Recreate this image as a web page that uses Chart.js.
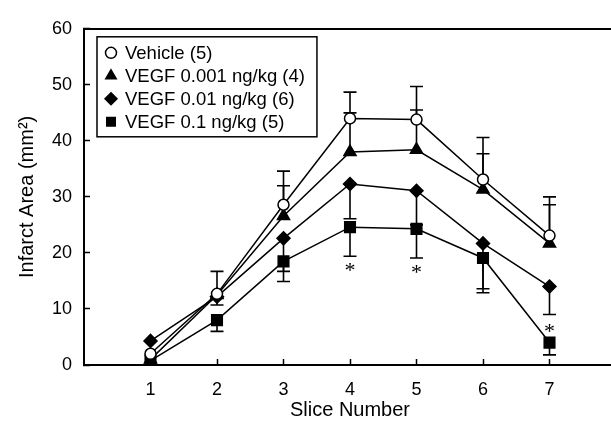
<!DOCTYPE html>
<html>
<head>
<meta charset="utf-8">
<script src="https://cdn.jsdelivr.net/npm/chart.js@4.4.0/dist/chart.umd.min.js"></script>
<style>
  html, body { margin: 0; padding: 0; overflow: hidden; background: #fff; }
  #wrap { width: 625px; height: 427px; }
</style>
</head>
<body>
<div id="wrap"><canvas id="infarctChart"></canvas></div>
<script>
const slices = [1, 2, 3, 4, 5, 6, 7];
const yTicks = [0, 10, 20, 30, 40, 50, 60];
const seriesNames = ['Vehicle (5)', 'VEGF 0.001 ng/kg (4)', 'VEGF 0.01 ng/kg (6)', 'VEGF 0.1 ng/kg (5)'];

const vehicle  = [2.0, 12.7, 28.6, 44.0, 43.8, 33.1, 23.1];
const vegfLow  = [1.0, 12.5, 26.6, 38.0, 38.4, 31.3, 21.7];
const vegfMid  = [4.3, 12.2, 22.6, 32.3, 31.1, 21.7, 14.0];
const vegfHigh = [0.8, 8.0, 18.5, 24.6, 24.3, 19.1, 4.0];

// where each error bar ends (only one side is drawn in the figure)
const vehicleErr  = [null, 16.7, 34.6, 48.7, 49.7, 40.6, 30.0];
const vegfLowErr  = [null, null, 32.0, 45.0, 45.5, 37.7, 28.6];
const vegfMidErr  = [null, 10.7, 16.7, 26.1, 25.0, 13.6, 9.0];
const vegfHighErr = [null, 6.0, 14.9, 19.4, 19.1, 12.9, 1.8];

// asterisks for VEGF 0.1 ng/kg
const highSig = ['', '', '', 'below', 'below', '', 'above'];

Chart.defaults.font.family = '"Liberation Sans", Arial, sans-serif';
Chart.defaults.color = '#000';

function makeSet(label, vals, errEnds, style, radius, fill) {
    return {
        label: label,
        data: slices.map((s, i) => ({ x: s, y: vals[i] })),
        errEnds: errEnds,
        borderColor: '#000',
        borderWidth: 1.5,
        pointStyle: style,
        pointRadius: radius,
        pointBackgroundColor: fill,
        pointBorderColor: '#000',
        pointBorderWidth: 1.5,
        tension: 0,
        fill: false
    };
}

const errorBars = {
    id: 'errorBars',
    beforeDatasetsDraw(chart) {
        const { ctx, scales: { x, y } } = chart;
        ctx.save();
        ctx.strokeStyle = '#000';
        ctx.lineWidth = 1.6;
        chart.data.datasets.forEach(d => {
            d.errEnds.forEach((e, j) => {
                if (e == null) return;
                const px = x.getPixelForValue(slices[j]);
                const p0 = y.getPixelForValue(d.data[j].y);
                const p1 = y.getPixelForValue(e);
                ctx.beginPath();
                ctx.moveTo(px, p0);
                ctx.lineTo(px, p1);
                ctx.moveTo(px - 6.5, p1);
                ctx.lineTo(px + 6.5, p1);
                ctx.stroke();
            });
        });
        ctx.restore();
    },
    afterDatasetsDraw(chart) {
        const { ctx, scales: { x, y } } = chart;
        ctx.save();
        ctx.fillStyle = '#000';
        ctx.font = '22px "Liberation Serif", serif';
        ctx.textAlign = 'center';
        ctx.textBaseline = 'alphabetic';
        const m = ctx.measureText('*');
        const shift = (m.actualBoundingBoxAscent - m.actualBoundingBoxDescent) / 2;
        highSig.forEach((s, j) => {
            if (!s) return;
            const px = x.getPixelForValue(slices[j]);
            let cy;
            if (s === 'below') cy = y.getPixelForValue(vegfHighErr[j]) + 11;
            else cy = y.getPixelForValue(vegfHigh[j]) - 15;
            ctx.fillText('*', px, cy + shift);
        });
        ctx.restore();
    }
};

const boxLegend = {
    id: 'boxLegend',
    afterDraw(chart) {
        const { ctx, chartArea } = chart;
        const x0 = chartArea.left + 13, y0 = chartArea.top + 8;
        ctx.save();
        ctx.font = '18.5px "Liberation Sans", Arial, sans-serif';
        const textW = Math.max(...chart.data.datasets.map(d => ctx.measureText(d.label).width));
        const w = 28 + textW + 12, h = 100;
        ctx.fillStyle = '#fff';
        ctx.fillRect(x0, y0, w, h);
        ctx.strokeStyle = '#000';
        ctx.lineWidth = 1.5;
        ctx.strokeRect(x0, y0, w, h);
        chart.data.datasets.forEach((d, i) => {
            const cy = y0 + 16 + i * 23;
            ctx.fillStyle = d.pointBackgroundColor;
            ctx.strokeStyle = '#000';
            ctx.lineWidth = 1.5;
            Chart.helpers.drawPoint(ctx, {
                pointStyle: d.pointStyle,
                radius: Math.min(d.pointRadius, 6),
                borderWidth: 1.5,
                rotation: 0
            }, x0 + 14, cy);
            ctx.fillStyle = '#000';
            ctx.textAlign = 'left';
            ctx.textBaseline = 'middle';
            ctx.fillText(d.label, x0 + 28, cy + 1);
        });
        ctx.restore();
    }
};

new Chart(document.getElementById('infarctChart'), {
    type: 'line',
    data: {
        datasets: [
            makeSet(seriesNames[0], vehicle, vehicleErr, 'circle', 5.5, '#fff'),
            makeSet(seriesNames[1], vegfLow, vegfLowErr, 'triangle', 7, '#000'),
            makeSet(seriesNames[2], vegfMid, vegfMidErr, 'rectRot', 6.5, '#000'),
            makeSet(seriesNames[3], vegfHigh, vegfHighErr, 'rect', 7.5, '#000')
        ]
    },
    options: {
        responsive: true,
        maintainAspectRatio: false,
        animation: false,
        layout: { padding: { top: 0, right: 8, bottom: 0, left: 0 } },
        plugins: {
            legend: { display: false },
            tooltip: { enabled: false }
        },
        scales: {
            x: {
                type: 'linear',
                position: 'bottom',
                min: 0,
                max: 8,
                afterBuildTicks: s => { s.ticks = slices.map(v => ({ value: v })); },
                ticks: { font: { size: 18 }, color: '#000', padding: 20, maxRotation: 0, autoSkip: false },
                grid: { drawOnChartArea: false, drawTicks: true, tickLength: -6, tickWidth: 1.5, tickColor: '#000' },
                border: { display: true, color: '#000', width: 2 },
                title: { display: true, text: 'Slice Number', font: { size: 20 }, color: '#000', padding: { top: 0, bottom: 5 } },
                afterFit: s => { s.height = 62; }
            },
            xTop: {
                type: 'linear',
                position: 'top',
                min: 0,
                max: 8,
                ticks: { display: false },
                grid: { drawOnChartArea: false, drawTicks: false },
                border: { display: true, color: '#000', width: 2 },
                afterFit: s => { s.height = 15; }
            },
            y: {
                min: 0,
                max: 60,
                afterBuildTicks: s => { s.ticks = yTicks.map(v => ({ value: v })); },
                ticks: { font: { size: 18 }, color: '#000', padding: 18 },
                grid: { drawOnChartArea: false, drawTicks: true, tickLength: -6, tickWidth: 1.5, tickColor: '#000' },
                border: { display: true, color: '#000', width: 2 },
                title: { display: true, text: 'Infarct Area (mm²)', font: { size: 20 }, color: '#000', padding: { top: 15, bottom: 0 } },
                afterFit: s => { s.width = 84; }
            }
        }
    },
    plugins: [errorBars, boxLegend]
});
</script>
</body>
</html>
